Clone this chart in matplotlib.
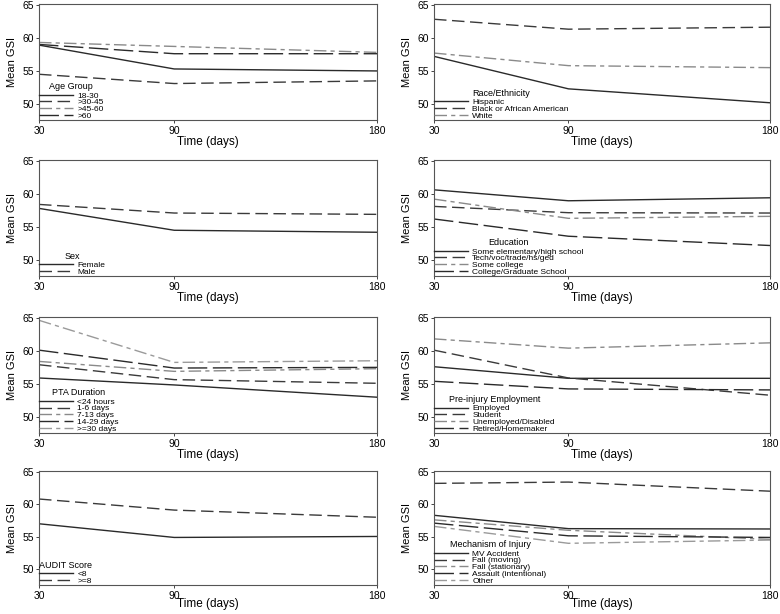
import numpy as np
import matplotlib.pyplot as plt

days = [30, 90, 180]

# legend titles and series, one block per panel
age_labels = ["18-30", ">30-45", ">45-60", ">60"]
age_vals = [[58.9, 55.3, 55.0], [54.5, 53.1, 53.5], [59.3, 58.7, 57.8], [59.0, 57.6, 57.6]]

race_labels = ["Hispanic", "Black or African American", "White"]
race_vals = [[57.2, 52.3, 50.2], [62.8, 61.3, 61.6], [57.7, 55.8, 55.5]]

sex_labels = ["Female", "Male"]
sex_vals = [[57.8, 54.5, 54.2], [58.4, 57.1, 56.9]]

edu_labels = ["Some elementary/high school", "Tech/voc/trade/hs/ged", "Some college", "College/Graduate School"]
edu_vals = [[60.6, 58.95, 59.4], [58.1, 57.15, 57.1], [59.2, 56.3, 56.6], [56.2, 53.6, 52.2]]

pta_labels = ["<24 hours", "1-6 days", "7-13 days", "14-29 days", ">=30 days"]
pta_vals = [[55.9, 54.85, 53.0], [57.9, 55.65, 55.1], [58.4, 56.9, 57.3],
            [60.1, 57.4, 57.5], [64.6, 58.25, 58.5]]

emp_labels = ["Employed", "Student", "Unemployed/Disabled", "Retired/Homemaker"]
emp_vals = [[57.6, 55.85, 55.85], [60.1, 55.9, 53.3], [61.8, 60.4, 61.2], [55.4, 54.25, 54.1]]

audit_labels = ["<8", ">=8"]
audit_vals = [[57.0, 54.9, 55.05], [60.8, 59.1, 58.0]]

mech_labels = ["MV Accident", "Fall (moving)", "Fall (stationary)", "Assault (intentional)", "Other"]
mech_vals = [[58.3, 56.25, 56.2], [63.2, 63.4, 62.0], [57.6, 56.0, 54.6],
             [57.1, 55.15, 54.9], [56.6, 54.0, 54.5]]

panels = [
    ("Age Group", age_labels, age_vals),
    ("Race/Ethnicity", race_labels, race_vals),
    ("Sex", sex_labels, sex_vals),
    ("Education", edu_labels, edu_vals),
    ("PTA Duration", pta_labels, pta_vals),
    ("Pre-injury Employment", emp_labels, emp_vals),
    ("AUDIT Score", audit_labels, audit_vals),
    ("Mechanism of Injury", mech_labels, mech_vals),
]

# line styles in series order (grayscale, Stata-like)
styles = [
    ("-", "#2a2a2a"),
    ((0, (9, 4)), "#3a3a3a"),
    ((0, (9, 3, 3, 3)), "#8a8a8a"),
    ((0, (14, 4)), "#2a2a2a"),
    ((0, (9, 3, 3, 3)), "#9a9a9a"),
]

W, H = 780, 614
plt.rcParams['font.family'] = ['Liberation Sans', 'DejaVu Sans']
fig = plt.figure(figsize=(W / 100, H / 100), dpi=100)

col_x = [(39, 377), (434, 770)]
row_top = [4, 160, 317, 471]
row_h = [116, 116, 116, 114]

for i, (title, labels, vals) in enumerate(panels):
    r, c = divmod(i, 2)
    x0, x1 = col_x[c]
    y0 = row_top[r]
    ax_h = row_h[r]
    ax = fig.add_axes([x0 / W, 1 - (y0 + ax_h) / H, (x1 - x0) / W, ax_h / H])
    for k, (lab, v) in enumerate(zip(labels, vals)):
        ls, col = styles[k]
        ax.plot(days, v, linestyle=ls, color=col, linewidth=1.0, label=lab)
    ax.set_xlim(30, 180)
    ax.set_ylim(47.6, 65.1)
    ax.set_xticks(days)
    ax.set_yticks([50, 55, 60, 65])
    ax.tick_params(axis='both', labelsize=7.5, length=2.5, width=0.7, color='#444')
    ax.tick_params(axis='x', pad=1.5)
    ax.tick_params(axis='y', pad=1)
    for s in ax.spines.values():
        s.set_color('#555')
        s.set_linewidth(0.8)
    ax.set_xlabel("Time (days)", fontsize=8.5, labelpad=0 if r < 3 else -1.5)
    ax.set_ylabel("Mean GSI", fontsize=8, labelpad=4)
    leg = ax.legend(title=title, loc='lower left', fontsize=6, title_fontsize=6.5,
                    frameon=False, handlelength=4.1, handletextpad=0.5,
                    labelspacing=-0.12, borderaxespad=0.0, borderpad=0.0)
    leg._legend_box.align = "center"
    leg._legend_box.sep = 0.5

fig.savefig("out.png", dpi=100)
